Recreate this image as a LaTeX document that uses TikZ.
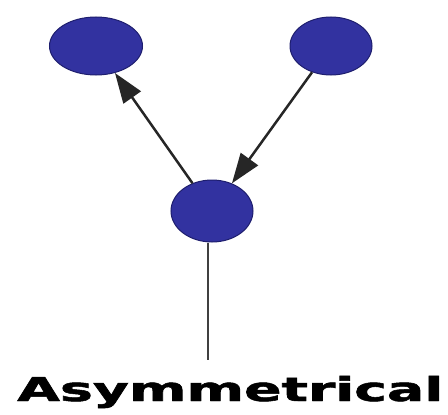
\documentclass[tikz,border=0pt]{standalone}
\usepackage{fontspec}
\setmainfont{DejaVu Sans}
\newfontfamily\heavyfont{DejaVu Sans Bold}[FakeBold=1.5]
\usetikzlibrary{arrows.meta,shapes.geometric}
\definecolor{nodeblue}{RGB}{50,50,160}
\definecolor{nodeedge}{RGB}{30,30,110}
\tikzset{
  dot/.style={ellipse, fill=nodeblue, draw=nodeedge, line width=1pt, inner sep=0pt},
  conn/.style={draw=black!85, line width=2.5pt, -{Triangle[length=30pt,width=21pt]}, shorten >=0pt},
}
\begin{document}
\begin{tikzpicture}[x=1pt,y=-1pt]
\useasboundingbox (0,0) rectangle (448,415);
\node[dot, minimum width=93pt, minimum height=58pt] (tl) at (96,46) {};
\node[dot, minimum width=82pt, minimum height=58pt] (tr) at (331,46) {};
\node[dot, minimum width=82pt, minimum height=62pt] (b) at (212,211) {};
\coordinate (end) at (208,360);
\draw[conn] (b) -- (tl);
\draw[conn] (tr) -- (b);
\draw[draw=black!75, line width=2.5pt] (b.south -| end) -- (end);
\node[inner sep=0pt, anchor=base west] (lbl) at (17,401) {\resizebox{426pt}{25pt}{\heavyfont Asymmetrical}};
\end{tikzpicture}
\end{document}
